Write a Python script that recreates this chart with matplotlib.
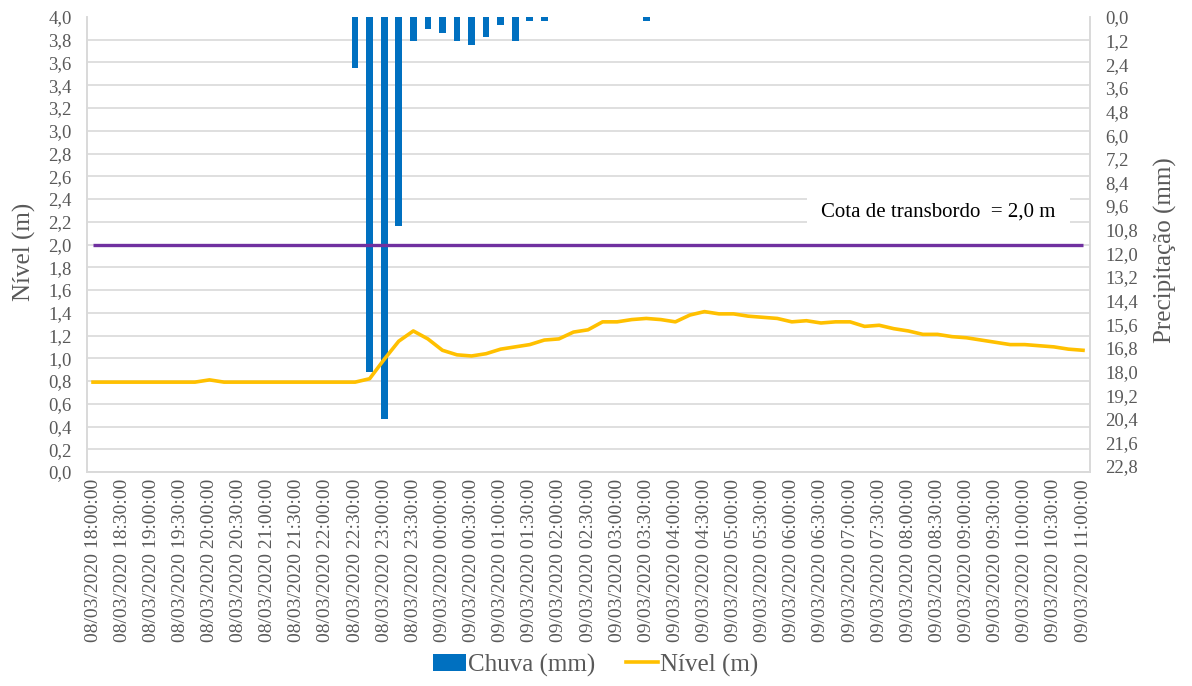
import numpy as np
import pandas as pd
import matplotlib
matplotlib.use("Agg")
import matplotlib.pyplot as plt
import matplotlib.dates as mdates
from matplotlib.patches import Patch
from matplotlib.lines import Line2D

# 15-minute readings, 08/03/2020 18:00 to 09/03/2020 11:00
times = pd.date_range("2020-03-08 18:00", "2020-03-09 11:00", freq="15min")
tick_times = pd.date_range("2020-03-08 18:00", "2020-03-09 11:00", freq="30min")

# water level (m)
nivel = [
    0.79, 0.79, 0.79, 0.79, 0.79, 0.79, 0.79, 0.79, 0.81, 0.79,
    0.79, 0.79, 0.79, 0.79, 0.79, 0.79, 0.79, 0.79, 0.79, 0.82,
    0.99, 1.15, 1.24, 1.17, 1.07, 1.03, 1.02, 1.04, 1.08, 1.10,
    1.12, 1.16, 1.17, 1.23, 1.25, 1.32, 1.32, 1.34, 1.35, 1.34,
    1.32, 1.38, 1.41, 1.39, 1.39, 1.37, 1.36, 1.35, 1.32, 1.33,
    1.31, 1.32, 1.32, 1.28, 1.29, 1.26, 1.24, 1.21, 1.21, 1.19,
    1.18, 1.16, 1.14, 1.12, 1.12, 1.11, 1.10, 1.08, 1.07,
]

# rainfall per 15 min (mm)
chuva = [0.0] * len(times)
rain_events = {
    "2020-03-08 22:30": 2.6, "2020-03-08 22:45": 18.0, "2020-03-08 23:00": 20.4,
    "2020-03-08 23:15": 10.6, "2020-03-08 23:30": 1.2, "2020-03-08 23:45": 0.6,
    "2020-03-09 00:00": 0.8, "2020-03-09 00:15": 1.2, "2020-03-09 00:30": 1.4,
    "2020-03-09 00:45": 1.0, "2020-03-09 01:00": 0.4, "2020-03-09 01:15": 1.2,
    "2020-03-09 01:30": 0.2, "2020-03-09 01:45": 0.2, "2020-03-09 03:30": 0.2,
}
for stamp, mm in rain_events.items():
    chuva[times.get_loc(pd.Timestamp(stamp))] = mm

cota = 2.0  # overflow level (m)

left_ticks = np.round(np.arange(0, 4.0001, 0.2), 1)
right_ticks = np.round(np.arange(0, 22.8001, 1.2), 1)
right_max = 23.1

GRAY = "#595959"
GRID = "#D9D9D9"
BLUE = "#0070C0"
YELLOW = "#FFC000"
PURPLE = "#7030A0"

plt.rcParams["font.family"] = ["Liberation Serif", "DejaVu Serif"]

fig = plt.figure(figsize=(11.92, 6.86), dpi=100)
ax = fig.add_axes([87 / 1192, 1 - 472 / 686, 1003 / 1192, 455 / 686])
ax2 = ax.twinx()

# rain bars on the right axis, hanging from the top
ax2.set_zorder(1)
ax.set_zorder(2)
ax.patch.set_visible(False)

bar_w = pd.Timedelta(minutes=6.9) / pd.Timedelta(days=1)
ax2.bar(times, chuva, width=bar_w, color=BLUE, zorder=3)
ax2.set_ylim(right_max, 0)
ax2.set_yticks(right_ticks)
ax2.set_yticklabels([f"{v:.1f}".replace(".", ",") for v in right_ticks])

# horizontal grid (level scale) drawn on the lower axes so bars cover it
grid_pos = [right_max * (1 - v / 4.0) for v in left_ticks]
ax2.set_yticks(grid_pos, minor=True)
ax2.yaxis.grid(True, which="minor", color=GRID, linewidth=1.2, zorder=0)
ax2.yaxis.grid(False, which="major")
ax2.set_axisbelow(True)
ax2.tick_params(axis="y", which="minor", length=0)
ax2.tick_params(axis="y", which="major", length=0, labelsize=13.5,
                labelcolor=GRAY, pad=11)

# level series on the left axis
ax.hlines(cota, times[0], times[-1], color=PURPLE, linewidth=2.4, zorder=3)
ax.plot(times, nivel, color=YELLOW, linewidth=2.6, zorder=4,
        solid_joinstyle="round")
ax.set_ylim(0, 4.0)
ax.set_yticks(left_ticks)
ax.set_yticklabels([f"{v:.1f}".replace(".", ",") for v in left_ticks])
ax.tick_params(axis="y", length=0, labelsize=13.5, labelcolor=GRAY, pad=11)

ax.set_xlim(times[0] - pd.Timedelta(minutes=6.2), times[-1] + pd.Timedelta(minutes=7.2))
ax.set_xticks(tick_times)
ax.xaxis.set_major_formatter(mdates.DateFormatter("%d/%m/%Y %H:%M:%S"))
ax.tick_params(axis="x", length=0, labelsize=14, labelcolor=GRAY,
               labelrotation=90, pad=5)

for a in (ax, ax2):
    for side in ("left", "right", "bottom"):
        a.spines[side].set_color(GRID)
        a.spines[side].set_linewidth(1.2)
    a.spines["top"].set_visible(False)

fig.text(24 / 1192, 1 - 252 / 686, "Nível (m)", rotation=90, ha="center",
         va="center", fontsize=18, color=GRAY)
fig.text(1165 / 1192, 1 - 250 / 686, "Precipitação (mm)", rotation=90,
         ha="center", va="center", fontsize=18, color=GRAY)

ax.text(0.849, 0.571, "Cota de transbordo  = 2,0 m", transform=ax.transAxes,
        ha="center", va="center", fontsize=15, color="black", zorder=5,
        bbox=dict(boxstyle="square,pad=0.7", facecolor="white", edgecolor="none"))

handles = [Patch(facecolor=BLUE, edgecolor="none"),
           Line2D([], [], color=YELLOW, linewidth=2.6)]
fig.legend(handles, ["Chuva (mm)", "Nível (m)"], loc="center",
           bbox_to_anchor=(0.5, 1 - 665 / 686), ncol=2, frameon=False,
           fontsize=18, labelcolor=GRAY, handlelength=1.3, handletextpad=0.1,
           columnspacing=1.2)

fig.savefig("out.png", dpi=100)
